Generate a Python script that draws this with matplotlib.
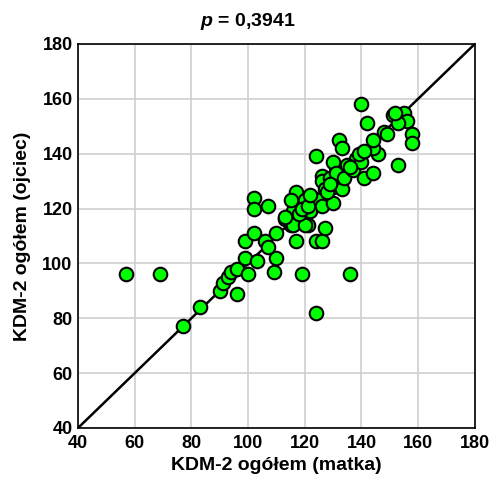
import numpy as np
import matplotlib
matplotlib.use('Agg')
from matplotlib import pyplot as plt

plt.rcParams['font.family'] = 'Liberation Sans'
plt.rcParams['mathtext.fontset'] = 'custom'
plt.rcParams['mathtext.it'] = 'Liberation Sans:italic:bold'

# KDM-2 ogółem: matka (x) vs ojciec (y)
matka = [57, 69, 77, 83, 90, 91, 93, 94, 96, 96, 100, 99, 103, 109, 110,
         99, 102, 106, 107, 110, 113, 115, 117, 119, 124, 126, 124, 136,
         102, 102, 107, 116, 117, 115, 120, 121, 116, 120, 127, 122, 118,
         113, 123, 125, 126, 130, 124, 126, 126, 129, 130, 133, 131, 134,
         130, 131, 134, 132, 133, 138, 137, 140, 141, 144, 146, 144, 144,
         148, 149, 142, 140, 151, 155, 156, 153, 158, 158, 153, 152,
         119, 121, 122, 127, 128, 135, 136, 139, 141, 129]
ojciec = [96, 96, 77, 84, 90, 93, 95, 97, 89, 98, 96, 102, 101, 97, 102,
          108, 111, 108, 106, 111, 116, 114, 108, 96, 108, 108, 82, 96,
          124, 120, 121, 119, 126, 123, 123, 114, 114, 114, 113, 119, 118,
          117, 124, 123, 121, 122, 139, 132, 130, 131, 128, 127, 135, 134,
          137, 133, 131, 145, 142, 138, 134, 137, 131, 133, 140, 142, 145,
          148, 147, 151, 158, 154, 155, 152, 151, 147, 144, 136, 155,
          120, 121, 125, 127, 126, 136, 135, 140, 141, 129]

lim = [40, 180]
ticks = np.arange(40, 181, 20)

fig = plt.figure(figsize=(4.91, 4.83), dpi=100)
ax = fig.add_axes([0.159, 0.114, 0.808, 0.795])

ax.plot(lim, lim, color='black', lw=1.8, zorder=2)
ax.scatter(matka, ojciec, s=95, c='#00ff00', edgecolors='black',
           linewidths=1.5, zorder=3)

ax.set_xlim(lim); ax.set_ylim(lim)
ax.set_xticks(ticks); ax.set_yticks(ticks)
ax.grid(True, color='#d0d0d0', lw=1.2, zorder=0)
ax.set_axisbelow(True)
ax.tick_params(length=0, labelsize=13)
ax.tick_params(axis='x', pad=5)
ax.tick_params(axis='y', pad=4)
for lab in ax.get_xticklabels() + ax.get_yticklabels():
    lab.set_fontweight('bold')
for sp in ax.spines.values():
    sp.set_linewidth(1.2)

ax.set_xlabel('KDM-2 ogółem (matka)', fontsize=14, fontweight='bold', labelpad=4)
ax.set_ylabel('KDM-2 ogółem (ojciec)', fontsize=14, fontweight='bold', labelpad=8)
fig.text(0.505, 0.955, '$p$ = 0,3941', ha='center', va='center',
         fontsize=14, fontweight='bold')

plt.savefig('out.png', dpi=100)
